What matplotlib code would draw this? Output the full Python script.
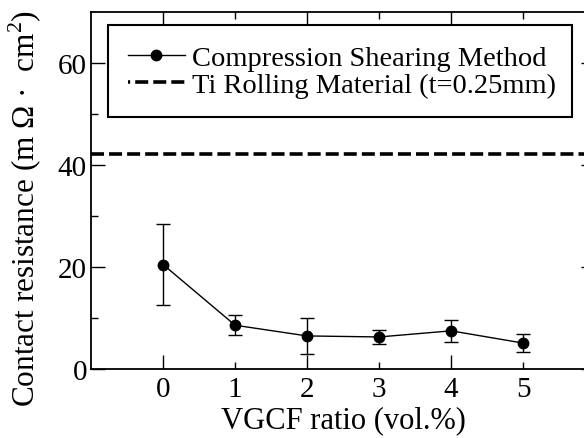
import matplotlib
matplotlib.use("Agg")
import matplotlib.pyplot as plt
from matplotlib.lines import Line2D

plt.rcParams["font.family"] = ["Liberation Serif", "DejaVu Serif"]
plt.rcParams["mathtext.fontset"] = "custom"
plt.rcParams["mathtext.rm"] = "Liberation Serif"

# データ
vgcf_ratio = [0, 1, 2, 3, 4, 5]
resistance = [20.5, 8.6, 6.5, 6.3, 7.5, 5.1]
resistance_err = [8.0, 2.0, 3.6, 1.4, 2.1, 1.7]
ti_rolling = 42.2

x_labels = ["0", "1", "2", "3", "4", "5"]

fig = plt.figure(figsize=(5.84, 4.39), dpi=100)
ax = fig.add_axes([0.156, 0.157, 0.863, 0.813])

ax.errorbar(vgcf_ratio, resistance, yerr=resistance_err, color="black",
            fmt="none", elinewidth=1.0, capsize=5, capthick=1.0)
ax.plot(vgcf_ratio, resistance, color="black", marker="o", markersize=7.5,
        linewidth=1.0)
ax.axhline(ti_rolling, color="black", linewidth=2.6, dashes=(3.6, 1.4))

ax.set_xlim(-1, 6)
ax.set_ylim(0, 70)
ax.set_xticks([0, 2, 4])
ax.set_xticks([1, 3, 5], minor=True)
ax.set_xticklabels([x_labels[i] for i in (0, 2, 4)])
ax.set_xticklabels([x_labels[i] for i in (1, 3, 5)], minor=True)
ax.set_yticks([0, 20, 40, 60])
ax.set_yticks([10, 30, 50], minor=True)

ax.tick_params(which="both", direction="in", top=True, right=True,
               labelsize=21, width=1.0)
ax.tick_params(axis="x", which="both", pad=5)
ax.tick_params(axis="y", which="both", pad=3)
ax.tick_params(which="major", length=10)
ax.tick_params(which="minor", length=5)
for s in ax.spines.values():
    s.set_linewidth(1.3)

ax.set_xlabel("VGCF ratio (vol.%)", fontsize=22, labelpad=2)
# 縦軸ラベルは位置を直接指定
fig.text(44 / 584, (439 - 208) / 439,
         "Contact resistance (m Ω ·  cm$^2$)",
         rotation=90, ha="right", va="center", fontsize=22.5)

handles = [
    Line2D([], [], color="black", marker="o", markersize=7.5, linewidth=1.0),
    Line2D([], [], color="black", linewidth=2.6, linestyle=(3.0, (3.6, 1.4))),
]
labels = ["Compression Shearing Method", "Ti Rolling Material (t=0.25mm)"]
leg = ax.legend(handles, labels, loc="upper left", mode="expand",
                bbox_to_anchor=(0.034, 0.0, 0.921, 0.963),
                fontsize=20.5, frameon=True, fancybox=False, edgecolor="black",
                handlelength=2.0, handletextpad=0.25, borderpad=0.68,
                labelspacing=0.05, borderaxespad=0)
leg.get_frame().set_linewidth(1.5)
leg.get_frame().set_alpha(1)

fig.savefig("out.png", dpi=100)
